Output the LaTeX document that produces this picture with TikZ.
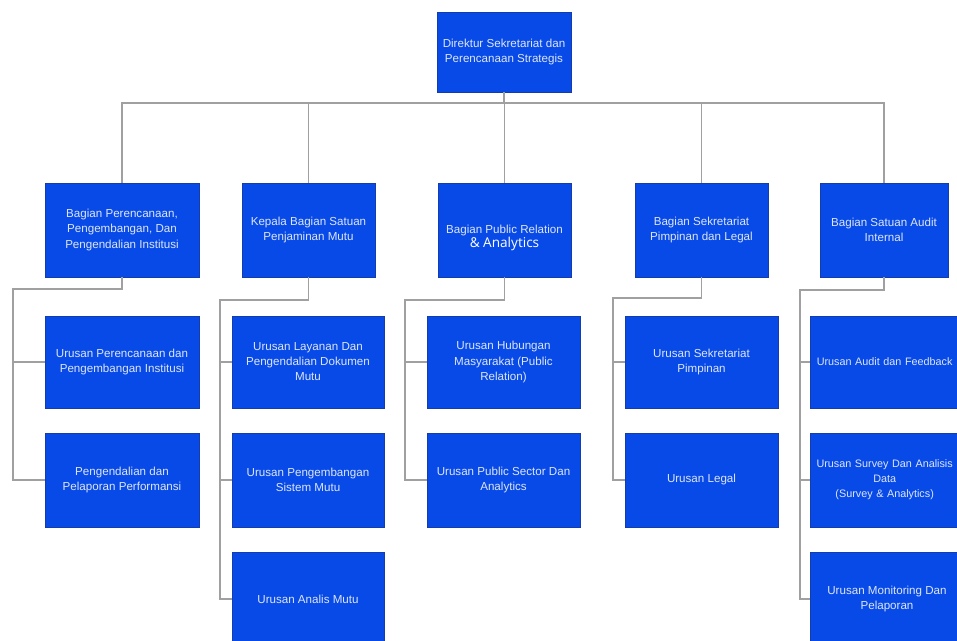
\documentclass[tikz,border=0pt]{standalone}
\usepackage{fontspec}
\setmainfont{Liberation Sans}
\newfontfamily\accentfont{Open Sans}
\definecolor{boxblue}{RGB}{8,74,232}
\definecolor{boxedge}{RGB}{20,60,170}
\definecolor{boxtext}{RGB}{222,230,245}
\definecolor{linkgray}{RGB}{160,160,160}
\begin{document}
\begin{tikzpicture}[x=0.75pt,y=-0.75pt,
  box/.style={draw=boxedge, line width=0.4pt, fill=boxblue, text=boxtext,
    align=center, inner sep=1pt, font=\fontsize{8.7}{11.3}\selectfont},
  boxlabel/.style={text=boxtext, align=center, inner sep=1pt, text width=108pt,
    anchor=west, font=\fontsize{8.1}{11.3}\selectfont},
  link/.style={draw=linkgray, line width=0.9pt}]
\useasboundingbox (0,0) rectangle (957,641);
\clip (0,0) rectangle (957,641);
\fill[white] (0,0) rectangle (957,641);

% head of the unit
\node[box, minimum width=100.5pt, minimum height=60pt] (top) at (504,52)
  {Direktur Sekretariat dan\\Perencanaan Strategis};

% sections
\node[box, minimum width=115.5pt, minimum height=70.5pt] (b1) at (122,230)
  {Bagian Perencanaan,\\Pengembangan, Dan\\Pengendalian Institusi};
\node[box, minimum width=99.75pt, minimum height=70.5pt] (b2) at (308.5,230)
  {Kepala Bagian Satuan\\Penjaminan Mutu};
\node[box, minimum width=99.75pt, minimum height=70.5pt] (b3) at (504.5,230)
  {\mbox{}\\[7pt]Bagian Public Relation\\[-1pt]{\accentfont\fontsize{10.2}{12}\selectfont\color{white}\& Analytics}};
\node[box, minimum width=99.75pt, minimum height=70.5pt] (b4) at (701.5,230)
  {Bagian Sekretariat\\Pimpinan dan Legal};
\node[box, minimum width=96pt, minimum height=70.5pt] (b5) at (884,230)
  {Bagian Satuan Audit\\Internal};

% units, column 1
\node[box, minimum width=115.5pt, minimum height=69pt] (c1a) at (122,362)
  {Urusan Perencanaan dan\\Pengembangan Institusi};
\node[box, minimum width=115.5pt, minimum height=70.5pt] (c1b) at (122,480)
  {Pengendalian dan\\Pelaporan Performansi};

% units, column 2
\node[box, minimum width=114pt, minimum height=69pt] (c2a) at (308,362)
  {Urusan Layanan Dan\\Pengendalian Dokumen\\Mutu};
\node[box, minimum width=114pt, minimum height=70.5pt] (c2b) at (308,480)
  {Urusan Pengembangan\\Sistem Mutu};
\node[box, minimum width=114pt, minimum height=70.5pt] (c2c) at (308,599)
  {Urusan Analis Mutu};

% units, column 3
\node[box, minimum width=114.75pt, minimum height=69pt] (c3a) at (503.5,362)
  {Urusan Hubungan\\Masyarakat (Public\\Relation)};
\node[box, minimum width=114.75pt, minimum height=70.5pt] (c3b) at (503.5,480)
  {Urusan Public Sector Dan\\Analytics};

% units, column 4
\node[box, minimum width=114.75pt, minimum height=69pt] (c4a) at (701.5,362)
  {Urusan Sekretariat\\Pimpinan};
\node[box, minimum width=114.75pt, minimum height=70.5pt] (c4b) at (701.5,480)
  {Urusan Legal};

% units, column 5 (long labels sit against the left edge of their boxes)
\node[box, minimum width=115.5pt, minimum height=69pt] (c5a) at (887,362) {};
\node[boxlabel] (c5at) at ([xshift=1pt]c5a.west) {Urusan Audit dan Feedback};
\node[box, minimum width=115.5pt, minimum height=70.5pt] (c5b) at (887,480) {};
\node[boxlabel] (c5bt) at ([xshift=1pt]c5b.west)
  {Urusan Survey Dan Analisis\\Data\\(Survey \& Analytics)};
\node[box, minimum width=115.5pt, minimum height=70.5pt] (c5c) at (887,599)
  {Urusan Monitoring Dan\\Pelaporan};

% head to sections
\coordinate (hbus) at (504,103);
\foreach \b in {b1,b2,b3,b4,b5}
  \draw[link] (top.south) -- (hbus) -| (\b.north);

% sections to units
\coordinate (s1) at (13,289);
\coordinate (s2) at (220,300);
\coordinate (s3) at (405,300);
\coordinate (s4) at (613,298);
\coordinate (s5) at (800,290);

\draw[link] (b1.south) |- (s1) |- (c1a.west);
\draw[link] (s1) |- (c1b.west);

\draw[link] (b2.south) |- (s2) |- (c2a.west);
\draw[link] (s2) |- (c2b.west);
\draw[link] (s2) |- (c2c.west);

\draw[link] (b3.south) |- (s3) |- (c3a.west);
\draw[link] (s3) |- (c3b.west);

\draw[link] (b4.south) |- (s4) |- (c4a.west);
\draw[link] (s4) |- (c4b.west);

\draw[link] (b5.south) |- (s5) |- (c5a.west);
\draw[link] (s5) |- (c5b.west);
\draw[link] (s5) |- (c5c.west);
\end{tikzpicture}
\end{document}
